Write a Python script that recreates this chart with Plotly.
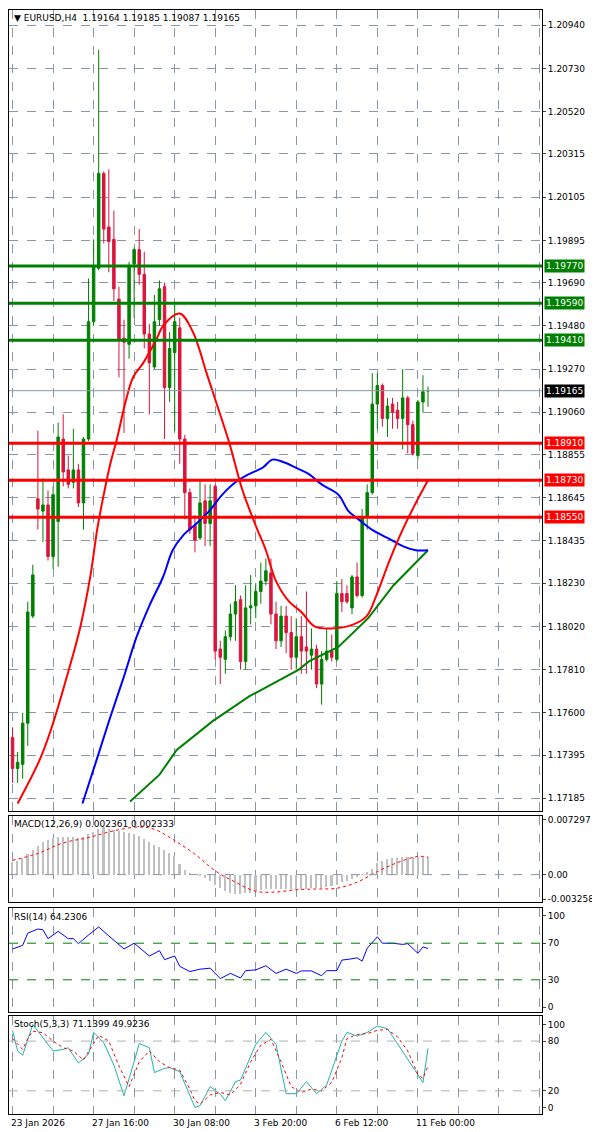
import plotly.graph_objects as go
from plotly.subplots import make_subplots

opens  = [1.1748,1.1733,1.1735,1.1755,1.1807,1.1864,1.1858,1.1861,1.1836,1.1853,1.1893,1.1878,1.1872,1.1878,1.1862,1.1893,1.1950,1.1976,1.2022,1.1996,
          1.1990,1.1961,1.1942,1.1939,1.1978,1.1985,1.1973,1.1944,1.1928,1.1951,1.1967,1.1918,1.1935,1.1947,1.1893,1.1867,1.1851,1.1845,1.1863,1.1852,
          1.1870,1.1791,1.1786,1.1797,1.1808,1.1815,1.1785,1.1811,1.1812,1.1819,1.1824,1.1828,1.1808,1.1795,1.1807,1.1799,1.1787,1.1797,1.1792,1.1788,
          1.1791,1.1774,1.1786,1.1790,1.1786,1.1818,1.1818,1.1811,1.1826,1.1817,1.1855,1.1867,1.1910,1.1919,1.1903,1.1910,1.1907,1.1903,1.1913,1.1900,
          1.1885,1.1911,1.19164]
highs  = [1.1753,1.1741,1.1760,1.1814,1.1832,1.1897,1.1874,1.1868,1.1870,1.1901,1.1905,1.1885,1.1898,1.1881,1.1894,1.1971,1.1990,1.2082,1.2023,1.2024,
          1.2004,1.1967,1.1951,1.1979,1.1986,1.1995,1.1984,1.1949,1.1963,1.1970,1.1969,1.1945,1.1959,1.1952,1.1895,1.1869,1.1856,1.1873,1.1871,1.1871,
          1.1871,1.1795,1.1800,1.1813,1.1822,1.1817,1.1822,1.1827,1.1823,1.1833,1.1835,1.1835,1.1814,1.1812,1.1812,1.1807,1.1806,1.1807,1.1819,1.1801,
          1.1793,1.1790,1.1801,1.1798,1.1824,1.1825,1.1822,1.1827,1.1833,1.1859,1.1871,1.1925,1.1925,1.1920,1.1913,1.1913,1.1911,1.1927,1.1914,1.1902,
          1.1912,1.1924,1.19185]
lows   = [1.1726,1.1726,1.1728,1.1744,1.1806,1.1849,1.1843,1.1834,1.1830,1.1831,1.1870,1.1869,1.1869,1.1860,1.1849,1.1892,1.1948,1.1975,1.1988,1.1974,
          1.1960,1.1923,1.1896,1.1932,1.1952,1.1968,1.1937,1.1905,1.1927,1.1948,1.1893,1.1911,1.1897,1.1881,1.1854,1.1847,1.1838,1.1844,1.1841,1.1841,
          1.1786,1.1774,1.1779,1.1795,1.1795,1.1781,1.1781,1.1803,1.1806,1.1813,1.1822,1.1803,1.1791,1.1792,1.1789,1.1781,1.1781,1.1779,1.1779,1.1781,
          1.1772,1.1764,1.1785,1.1785,1.1785,1.1809,1.1813,1.1808,1.1816,1.1816,1.1849,1.1866,1.1898,1.1899,1.1894,1.1898,1.1898,1.1888,1.1886,1.1885,
          1.1883,1.1906,1.19087]
closes = [1.1733,1.1736,1.1755,1.1809,1.1827,1.1859,1.1861,1.1836,1.1866,1.1894,1.1877,1.1871,1.1878,1.1862,1.1893,1.1950,1.1977,1.2022,1.1995,1.1989,
          1.1966,1.1941,1.1940,1.1977,1.1985,1.1973,1.1944,1.1930,1.1950,1.1966,1.1918,1.1937,1.1950,1.1893,1.1867,1.1849,1.1844,1.1862,1.1852,1.1863,
          1.1790,1.1787,1.1797,1.1808,1.1814,1.1785,1.1811,1.1812,1.1819,1.1824,1.1829,1.1808,1.1795,1.1807,1.1799,1.1787,1.1797,1.1790,1.1790,1.1791,
          1.1774,1.1786,1.1790,1.1787,1.1818,1.1814,1.1814,1.1826,1.1817,1.1855,1.1867,1.1910,1.1919,1.1903,1.1909,1.1906,1.1903,1.1913,1.1900,1.1886,
          1.1911,1.1916,1.19165]
bars = list(range(len(opens)))

red_ma_x = [1,5.5,8,11,13.4,15.4,16.7,18,19.3,20.6,22.2,23.8,25.8,28.5,29.7,33,35.6,38.3,40.3,42.8,45.4,48,50,52,54.6,57,59.6,62.8,67.3,69.9,71.8,74.4,77,79.6,82]
red_ma_y = [1.1716,1.1738,1.1755,1.1780,1.1802,1.1827,1.1849,1.1866,1.1881,1.1893,1.1910,1.1923,1.1930,1.1942,1.1948,1.1954,1.1945,1.1925,1.1910,1.1891,1.1868,1.1851,1.1839,1.1824,1.1814,1.1809,1.1802,1.1801,1.1803,1.1807,1.1817,1.1834,1.1849,1.1862,1.1873]
blue_ma_x = [13.8,16.7,19.3,21.9,24.5,27,29.7,31.6,33.6,36.3,38.8,41.4,44,46.7,49.3,51.3,53.3,56,58.5,61,64.3,66.3,68.3,70.9,74,77,79.6,82]
blue_ma_y = [1.1716,1.1738,1.1758,1.1777,1.1797,1.1812,1.1826,1.1839,1.1846,1.1852,1.1858,1.1866,1.1872,1.1876,1.1879,1.1883,1.1882,1.1879,1.1876,1.1871,1.1866,1.1858,1.1854,1.1849,1.1845,1.1841,1.1839,1.1839]
green_ma_x = [23.2,29,32.4,39.5,46.7,53.3,56.5,58.5,64.3,70.2,75.2,82]
green_ma_y = [1.1717,1.1730,1.1742,1.1756,1.1768,1.1777,1.1781,1.1785,1.1792,1.1806,1.1822,1.1839]

res_levels = [1.19770,1.19590,1.19410]
sup_levels = [1.18910,1.18730,1.18550]
last_price = 1.19165
price_ticks = [1.20940,1.20730,1.20520,1.20315,1.20105,1.19895,1.19690,1.19480,1.19270,1.19060,1.18855,1.18645,1.18435,1.18230,1.18020,1.17810,1.17600,1.17395,1.17185]

macd_hist = [0.00175,0.00190,0.00220,0.00281,0.00326,0.00387,0.00432,0.00462,0.00492,0.00507,0.00507,0.00507,0.00507,0.00492,0.00507,0.00538,0.00568,0.00613,0.00628,0.00613,
             0.00598,0.00583,0.00568,0.00553,0.00538,0.00522,0.00477,0.00432,0.00402,0.00371,0.00326,0.00296,0.00251,0.00145,0.00069,0.00024,0.0,-0.00012,-0.00036,-0.00082,
             -0.00127,-0.00172,-0.00217,-0.00233,-0.00248,-0.00248,-0.00242,-0.00233,-0.00217,-0.00202,-0.00187,-0.00181,-0.00181,-0.00181,-0.00187,-0.00181,-0.00181,-0.00181,-0.00181,-0.00172,
             -0.00172,-0.00172,-0.00163,-0.00142,-0.00127,-0.00097,-0.00082,-0.00051,-0.00021,0.00009,0.00039,0.00085,0.00160,0.00190,0.00205,0.00220,0.00230,0.00236,0.00236,0.00236,
             0.00236,0.00236,0.00236]
macd_sig_x = [0,5,10,15,20,25,28,32,36,40,44,48,52,56,60,64,68,72,76,80,82]
macd_sig_y = [0.0019,0.0028,0.0042,0.0049,0.0058,0.0063,0.0060,0.0045,0.0027,0.0005,-0.0010,-0.0022,-0.0023,-0.0020,-0.0019,-0.0018,-0.0010,0.0004,0.0016,0.0024,0.00233]

rsi_x = [0,2,3,5,6,7,9,11,12,13,15,17,19,20,22,24,25,27,29,30,32,33,35,37,39,41,43,45,46,48,50,52,54,56,57,59,61,62,64,65,67,68,69,70,72,73,75,77,78,80,81,82]
rsi_y = [63.7,67.6,81,85.5,84.7,75,83,75,75,69.5,79,87.8,78,73,63.7,70,65.6,56,61.8,52,56,44.7,39,41.6,42.7,31.3,37,32,40,40.8,45.4,37,41.6,37,39.7,39.7,34.4,40,40,51.5,53,54,50.4,64.5,77,70,70,68.7,69.5,59,66,64.2]

stoch_x = [0,1,2,4,5,8,10,11,13,15,16,18,20,22,24,25,27,28,30,31,33,35,36,37,39,41,42,44,45,48,50,52,54,56,58,60,62,65,66,68,70,72,74,75,78,80,81,82]
stoch_k = [92.6,68,63,100,92,68,70,72,53.5,64,90.5,78,51,14,55,77,72,42,47,48,43,14,0,2,25,16,8,31,33,76,90.5,76,16.5,16.5,31,16.5,27,80,90.5,86,90.5,98,95,86,58,40,30,71.1]
stoch_sig_x = [0,2,3,4,6,8,10,12,14,16,17,19,21,23,25,27,29,31,33,35,36,37,39,41,43,45,47,49,51,53,55,57,59,61,63,65,66,68,70,72,74,76,78,80,81,82]
stoch_d = [83,70,83,92,90,80,72,68,57,78,87,80,50,25,55,68,55,48,45,22,8,4,15,18,15,28,55,75,82,55,25,18,22,20,30,60,83,88,89,93,94,85,68,40,35,49.9]

date_idx = [0,16,32,48,64,80]
date_txt = ["23 Jan 2026","27 Jan 16:00","30 Jan 08:00","3 Feb 20:00","6 Feb 12:00","11 Feb 00:00"]

GREEN = "#008000"; RED = "#ff0000"; CRIMSON = "#dc143c"
FONT = dict(family="DejaVu Sans", size=9, color="black")

fig = make_subplots(rows=4, cols=1, shared_xaxes=True, vertical_spacing=0.0)
fig.add_trace(go.Candlestick(x=bars, open=opens, high=highs, low=lows, close=closes,
    increasing=dict(line=dict(color=GREEN, width=1), fillcolor=GREEN),
    decreasing=dict(line=dict(color=CRIMSON, width=1), fillcolor=CRIMSON),
    whiskerwidth=0, hoverinfo="skip"), row=1, col=1)
fig.add_trace(go.Scatter(x=green_ma_x, y=green_ma_y, mode="lines", line=dict(color=GREEN, width=2)), row=1, col=1)
fig.add_trace(go.Scatter(x=blue_ma_x, y=blue_ma_y, mode="lines", line=dict(color="#0000ff", width=2, shape="spline")), row=1, col=1)
fig.add_trace(go.Scatter(x=red_ma_x, y=red_ma_y, mode="lines", line=dict(color=RED, width=2, shape="spline")), row=1, col=1)

fig.add_trace(go.Bar(x=bars, y=macd_hist, marker=dict(color="#c0c0c0", line=dict(width=0)), width=0.3), row=2, col=1)
fig.add_trace(go.Scatter(x=macd_sig_x, y=macd_sig_y, mode="lines", line=dict(color=RED, width=1, dash="dot", shape="spline")), row=2, col=1)
fig.add_trace(go.Scatter(x=rsi_x, y=rsi_y, mode="lines", line=dict(color="#0000ff", width=1)), row=3, col=1)
fig.add_trace(go.Scatter(x=stoch_x, y=stoch_k, mode="lines", line=dict(color="#20b2aa", width=1)), row=4, col=1)
fig.add_trace(go.Scatter(x=stoch_sig_x, y=stoch_d, mode="lines", line=dict(color=RED, width=1, dash="dot")), row=4, col=1)

grid_x = list(range(0, 105, 8))
xcommon = dict(range=[-0.7, 104.5], tickvals=grid_x, showticklabels=False, showgrid=True,
               gridcolor="#8c97a5", griddash="dash", gridwidth=1, zeroline=False,
               showline=True, mirror=True, linecolor="black", linewidth=1, ticks="", rangeslider=dict(visible=False))
ycommon = dict(side="right", showgrid=True, gridcolor="#8c97a5", griddash="dash", zeroline=False,
               showline=True, mirror=True, linecolor="black", linewidth=1, ticks="outside", ticklen=3,
               tickfont=FONT)
for i in range(1, 5):
    fig.update_xaxes(xcommon, row=i, col=1)

fig.update_yaxes(ycommon, row=1, col=1, domain=[0.2745, 0.9991], range=[1.17125, 1.21014],
                 tickvals=price_ticks, ticktext=[f"{v:.5f}" for v in price_ticks])
fig.update_yaxes(ycommon, row=2, col=1, domain=[0.1920, 0.2700], range=[-0.0036, 0.0078],
                 tickvals=[0.007297, 0.0, -0.003258], ticktext=["0.007297", "0.00", "-0.003258"], showgrid=False)
fig.update_yaxes(ycommon, row=3, col=1, domain=[0.0925, 0.1860], range=[-5, 108],
                 tickvals=[100, 70, 30, 0], ticktext=["100", "70", "30", "0"], showgrid=False)
fig.update_yaxes(ycommon, row=4, col=1, domain=[0.0, 0.0885], range=[-8, 110],
                 tickvals=[100, 80, 20, 0], ticktext=["100", "80", "20", "0"], showgrid=False)

shapes = []
shapes.append(dict(type="line", xref="x domain", x0=0, x1=1, yref="y2", y0=0, y1=0, line=dict(color="#8c97a5", width=1, dash="dash")))
for v in [70, 30]:
    shapes.append(dict(type="line", xref="x domain", x0=0, x1=1, yref="y3", y0=v, y1=v, line=dict(color=GREEN, width=1, dash="dash")))
for v in [80, 20]:
    shapes.append(dict(type="line", xref="x domain", x0=0, x1=1, yref="y4", y0=v, y1=v, line=dict(color="#b0b0b0", width=1, dash="dash")))
shapes.append(dict(type="line", xref="x domain", x0=0, x1=1, yref="y", y0=last_price, y1=last_price, line=dict(color="#8c97a5", width=1)))
for v in res_levels:
    shapes.append(dict(type="line", xref="x domain", x0=0, x1=1, yref="y", y0=v, y1=v, line=dict(color=GREEN, width=3)))
for v in sup_levels:
    shapes.append(dict(type="line", xref="x domain", x0=0, x1=1, yref="y", y0=v, y1=v, line=dict(color=RED, width=3)))

ann = []
def box(v, bg):
    ann.append(dict(x=1.0, xref="paper", y=v, yref="y", text=f"{v:.5f}", showarrow=False, xanchor="left",
                    xshift=2, bgcolor=bg, font=dict(family="DejaVu Sans", size=9, color="white"), borderpad=1))
for v in res_levels: box(v, GREEN)
for v in sup_levels: box(v, RED)
box(last_price, "black")

ann.append(dict(x=0.005, xref="paper", y=0.9985, yref="paper", xanchor="left", yanchor="top", showarrow=False,
                text="▼ EURUSD,H4  1.19164 1.19185 1.19087 1.19165", font=FONT))
ann.append(dict(x=0.005, xref="paper", y=0.2690, yref="paper", xanchor="left", yanchor="top", showarrow=False,
                text="MACD(12,26,9) 0.002361 0.002333", font=FONT))
ann.append(dict(x=0.005, xref="paper", y=0.1850, yref="paper", xanchor="left", yanchor="top", showarrow=False,
                text="RSI(14) 64.2306", font=FONT))
ann.append(dict(x=0.005, xref="paper", y=0.0875, yref="paper", xanchor="left", yanchor="top", showarrow=False,
                text="Stoch(5,3,3) 71.1399 49.9236", font=FONT))
for i, t in zip(date_idx, date_txt):
    ann.append(dict(x=i, xref="x4", y=0, yref="paper", yanchor="top", xanchor="left", xshift=-4, yshift=-2,
                    showarrow=False, text=t, font=FONT))

fig.update_layout(width=600, height=1132, margin=dict(l=1, r=66, t=1, b=26), showlegend=False,
                  plot_bgcolor="white", paper_bgcolor="white", shapes=shapes, annotations=ann,
                  bargap=0, font=FONT, hovermode=False)
fig.write_html("out.html")
